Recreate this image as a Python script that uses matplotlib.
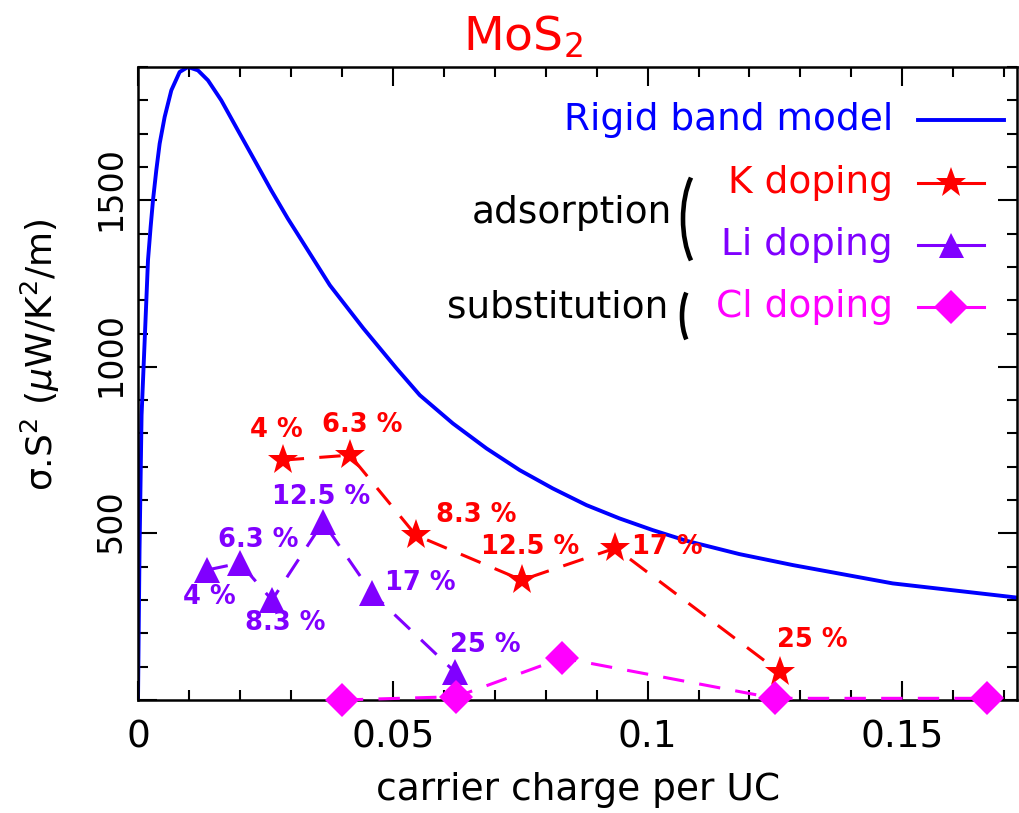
import matplotlib
matplotlib.use("Agg")
import matplotlib.pyplot as plt
from matplotlib.lines import Line2D
from matplotlib.patches import Arc
from matplotlib.transforms import ScaledTranslation
import numpy as np

# rigid band model curve
rb_x = [0.0, 0.0003, 0.0007, 0.00137, 0.00196, 0.00248, 0.00294, 0.00359, 0.00425,
        0.00523, 0.00654, 0.00817, 0.0098, 0.01176, 0.01373, 0.01634, 0.0196,
        0.02288, 0.02614, 0.0294, 0.0311, 0.03765, 0.0442, 0.0507, 0.0553, 0.0618,
        0.0684, 0.0749, 0.0814, 0.0880, 0.0945, 0.1010, 0.1076, 0.1180, 0.1285,
        0.1481, 0.1727]
rb_y = [0, 450, 855, 1101, 1320, 1420, 1500, 1590, 1670,
        1750, 1830, 1885, 1900, 1890, 1860, 1800, 1710,
        1620, 1530, 1445, 1404, 1245, 1116, 996, 915, 830,
        755, 690, 635, 585, 545, 510, 478, 438, 405,
        350, 307]

# K doping (adsorption)
k_x = [0.0284, 0.0416, 0.0545, 0.0753, 0.0937, 0.1259]
k_y = [720, 735, 495, 360, 456, 84]
k_lab = ["4 %", "6.3 %", "8.3 %", "12.5 %", "17 %", "25 %"]

# Li doping (adsorption)
li_x = [0.0135, 0.0200, 0.0263, 0.0363, 0.0459, 0.0622]
li_y = [390, 411, 300, 534, 321, 84]
li_lab = ["4 %", "6.3 %", "8.3 %", "12.5 %", "17 %", "25 %"]

# Cl doping (substitution)
cl_x = [0.04, 0.0625, 0.0833, 0.125, 0.1667]
cl_y = [0, 10, 126, 5, 5]

BLUE, RED, PURP, MAG = "#0000ff", "#ff0000", "#8000ff", "#ff00ff"

W, H = 1019, 813
fig = plt.figure(figsize=(W / 100, H / 100), dpi=100)
ax = fig.add_axes([138 / W, 1 - 700 / H, (1017 - 138) / W, (700 - 67) / H])

ax.plot(rb_x, rb_y, color=BLUE, lw=2.8, zorder=2, solid_joinstyle="round")
ax.plot(k_x, k_y, color=RED, lw=2.2, dashes=(7, 5), marker="*", ms=23,
        markeredgewidth=0, zorder=3)
ax.plot(li_x, li_y, color=PURP, lw=2.2, dashes=(7, 5), marker="^", ms=19,
        markeredgewidth=0, zorder=3)
ax.plot(cl_x, cl_y, color=MAG, lw=2.2, dashes=(7, 5), marker="D", ms=17,
        markeredgewidth=0, zorder=3, clip_on=False)

# percentage labels, offsets in pixels from the marker
k_off = [(-6, 30), (12, 30), (61, 20), (8, 33), (52, 1), (33, 32)]
li_off = [(3, -27), (18, 23), (13, -23), (-2, 25), (48, 10), (30, 27)]
for x, y, t, o in zip(k_x, k_y, k_lab, k_off):
    ax.annotate(t, (x, y), xytext=o, textcoords="offset pixels", color=RED,
                fontsize=18.5, fontweight="bold", ha="center", va="center")
for x, y, t, o in zip(li_x, li_y, li_lab, li_off):
    ax.annotate(t, (x, y), xytext=o, textcoords="offset pixels", color=PURP,
                fontsize=18.5, fontweight="bold", ha="center", va="center")

ax.set_xlim(0, 0.1725)
ax.set_ylim(0, 1900)
ax.set_xticks([0, 0.05, 0.1, 0.15])
ax.set_xticklabels(["0", "0.05", "0.1", "0.15"], fontsize=27)
ax.set_xticks(np.arange(0, 0.1725, 0.01), minor=True)
ax.set_yticks([0, 500, 1000, 1500])
ax.set_yticklabels(["", "500", "1000", "1500"], rotation=90, va="center",
                   fontsize=24)
ax.set_yticks(np.arange(0, 1901, 100), minor=True)
ax.tick_params(which="both", direction="in", top=True, right=True, width=1.5)
ax.tick_params(which="major", length=14)
ax.tick_params(which="minor", length=7)
ax.tick_params(axis="x", pad=14)
ax.tick_params(axis="y", pad=8)
shift = ScaledTranslation(0, 0.12, fig.dpi_scale_trans)
for lbl in ax.get_yticklabels():
    lbl.set_transform(lbl.get_transform() + shift)
for s in ax.spines.values():
    s.set_linewidth(1.8)

fig.text(523 / W, 1 - 50 / H, "MoS$_2$", color=RED, fontsize=34,
         ha="center", va="baseline")
fig.text(578 / W, 1 - 800 / H, "carrier charge per UC", fontsize=27,
         ha="center", va="baseline")
fig.text(40 / W, 1 - 355 / H, r"σ.S$^2$ ($\mu$W/K$^2$/m)", fontsize=26,
         rotation=90, ha="center", va="center")

# hand-made legend
rows = [("Rigid band model", BLUE, None, 120),
        ("K doping", RED, "*", 183),
        ("Li doping", PURP, "^", 245),
        ("Cl doping", MAG, "D", 307)]
msz = {"*": 23, "^": 18, "D": 17}
for txt, c, m, py in rows:
    fy = 1 - py / H
    fig.text(893 / W, fy, txt, color=c, fontsize=27, ha="right", va="center")
    if m is None:
        fig.add_artist(Line2D([918 / W, 1004 / W], [fy, fy], color=c, lw=2.8))
    else:
        fig.add_artist(Line2D([918 / W, 984 / W], [fy, fy], color=c, lw=2.2))
        fig.add_artist(Line2D([951 / W], [fy], color=c, marker=m, ms=msz[m],
                              markeredgewidth=0))

fig.text(672 / W, 1 - 213 / H, "adsorption", fontsize=27, ha="right", va="center")
fig.text(668 / W, 1 - 307 / H, "substitution", fontsize=27, ha="right", va="center")

# brackets
for cx, cy, a, b, t1, t2 in [(712, 219, 29, 60, 112, 248),
                             (700, 316, 18, 36, 115, 245)]:
    fig.add_artist(Arc((cx / W, 1 - cy / H), 2 * a / W, 2 * b / H,
                       theta1=t1, theta2=t2, color="black", lw=3.3,
                       transform=fig.transFigure))

fig.savefig("out.png", dpi=100)
